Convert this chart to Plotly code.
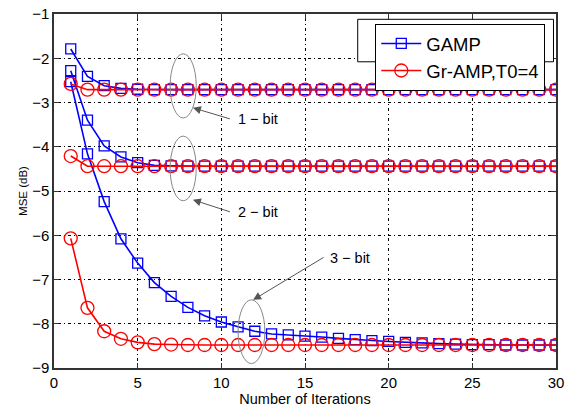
import plotly.graph_objects as go

iters = list(range(1, 31))

gamp_1bit = [-1.79, -2.41, -2.62, -2.68, -2.70] + [-2.71] * 25
gramp_1bit = [-2.58, -2.71] + [-2.71] * 28
gamp_2bit = [-2.28, -3.40, -3.98, -4.23, -4.36, -4.42, -4.43] + [-4.44] * 23
gramp_2bit = [-4.21, -4.44] + [-4.44] * 28
gamp_3bit = [-2.53, -4.16, -5.24, -6.08, -6.63, -7.07, -7.38, -7.63, -7.82, -7.96,
             -8.07, -8.17, -8.23, -8.25, -8.28, -8.30, -8.33, -8.36, -8.38, -8.40,
             -8.42, -8.43, -8.45, -8.46, -8.47, -8.47, -8.48, -8.48, -8.48, -8.48]
gramp_3bit = [-6.07, -7.64, -8.17, -8.34, -8.42, -8.46, -8.47] + [-8.48] * 23

labels = ["1 − bit", "2 − bit", "3 − bit"]

FONT = "Liberation Sans, Arial, sans-serif"

fig = go.Figure()

for i, ys in enumerate([gamp_1bit, gamp_2bit, gamp_3bit]):
    fig.add_trace(go.Scatter(
        x=iters, y=ys, mode="lines+markers", name="GAMP",
        legendgroup="gamp", showlegend=(i == 0),
        line=dict(color="#0000ff", width=1.6),
        marker=dict(symbol="square-open", size=10, color="#0000ff", line=dict(width=1.3)),
    ))
for i, ys in enumerate([gramp_1bit, gramp_2bit, gramp_3bit]):
    fig.add_trace(go.Scatter(
        x=iters, y=ys, mode="lines+markers", name="Gr-AMP,T0=4",
        legendgroup="gramp", showlegend=(i == 0),
        line=dict(color="#ff0000", width=1.6),
        marker=dict(symbol="circle-open", size=13, color="#ff0000", line=dict(width=1.3)),
    ))

# ellipses
for (x0, x1, y0, y1) in [(6.94, 8.5, -1.9, -3.35), (6.94, 8.5, -3.76, -5.22), (11.0, 12.6, -7.46, -8.9)]:
    fig.add_shape(type="circle", xref="x", yref="y", x0=x0, x1=x1, y0=y0, y1=y1,
                  line=dict(color="#888888", width=1))

# stray box behind legend
fig.add_shape(type="rect", xref="paper", yref="paper", x0=0.605, x1=0.995, y0=0.865, y1=0.985,
              line=dict(color="black", width=1), fillcolor="white", layer="above")

# arrows + labels: (head), (tail), (text anchor)
arrows = [((8.3, -3.12), (10.6, -3.38), (10.85, -3.38), labels[0]),
          ((8.3, -5.20), (10.6, -5.48), (10.85, -5.48), labels[1]),
          ((11.9, -7.46), (16.2, -6.48), (16.4, -6.52), labels[2])]
for (hx, hy), (tx, ty), (lx, ly), lab in arrows:
    fig.add_annotation(x=hx, y=hy, ax=tx, ay=ty, xref="x", yref="y", axref="x", ayref="y",
                       text="", showarrow=True, arrowhead=2, arrowsize=1.6, arrowwidth=1,
                       arrowcolor="#555555")
    fig.add_annotation(x=lx, y=ly, xref="x", yref="y", text=lab, showarrow=False,
                       xanchor="left", yanchor="middle", font=dict(size=14.5, color="black", family=FONT))

axis_common = dict(
    showline=True, linecolor="#333333", linewidth=1.5, mirror="ticks",
    ticks="inside", ticklen=5, tickcolor="#333333",
    showgrid=True, gridcolor="black", griddash="1px,3px,3px,3px", gridwidth=1,
    zeroline=False, tickfont=dict(size=15, color="black", family=FONT),
    ticklabeloverflow="allow",
)

fig.update_xaxes(range=[0, 30], tickvals=[0, 5, 10, 15, 20, 25, 30],
                 title=dict(text="Number of Iterations", font=dict(size=14.5, color="black", family=FONT), standoff=2),
                 **axis_common)
fig.update_yaxes(range=[-9, -1], tickvals=[-9, -8, -7, -6, -5, -4, -3, -2, -1],
                 title=dict(text="MSE (dB)", font=dict(size=11.5, color="black", family=FONT), standoff=2),
                 **axis_common)

fig.update_layout(
    width=569, height=408,
    margin=dict(l=54, r=5, t=13, b=36),
    plot_bgcolor="white", paper_bgcolor="white",
    font=dict(family=FONT, color="black"),
    legend=dict(x=0.64, y=0.972, xanchor="left", yanchor="top",
                bgcolor="white", bordercolor="black", borderwidth=1,
                font=dict(size=18.5, color="black", family=FONT),
                tracegroupgap=0, itemwidth=40),
)

fig.write_html("out.html", config={"displayModeBar": False},
               post_script="document.body.style.margin='0';")
